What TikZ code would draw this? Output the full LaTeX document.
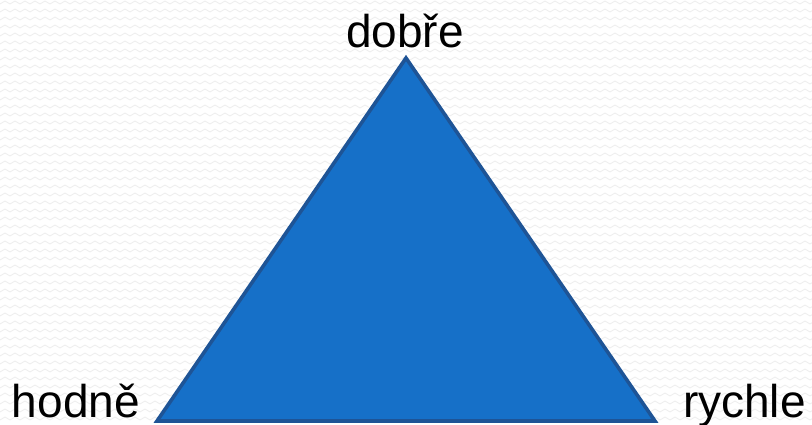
\documentclass[tikz,border=0pt]{standalone}
\usepackage{fontspec}
\setmainfont{Liberation Sans}
\definecolor{trifill}{RGB}{22,112,200}
\definecolor{triedge}{RGB}{30,84,150}
\definecolor{bgzig}{RGB}{238,238,238}
\begin{document}
\begin{tikzpicture}[x=1pt,y=-1pt,
  lbl/.style={inner sep=0pt,outer sep=0pt,font=\fontsize{46}{50}\selectfont,text=black},
  tri/.style={fill=trifill,draw=triedge,line width=3.6pt,line join=miter},
  bgline/.style={draw=bgzig,line width=0.8pt}]
\useasboundingbox[fill=white] (0,0) rectangle (812,424);
\foreach \y in {4,12,...,420}{
  \draw[bgline] (0,\y) \foreach \x in {0,10,...,810}{ -- (\x+5,\y-3) -- (\x+10,\y) };
}
\coordinate (top) at (406,58);
\coordinate (bl) at (157,421);
\coordinate (br) at (655,421);
\draw[tri] (top) -- (br) -- (bl) -- cycle;
\node[lbl,anchor=base] (dobre) at (405,47) {dobře};
\node[lbl,anchor=base west] (hodne) at (12,417) {hodně};
\node[lbl,anchor=base west] (rychle) at (683,417) {rychle};
\end{tikzpicture}
\end{document}
